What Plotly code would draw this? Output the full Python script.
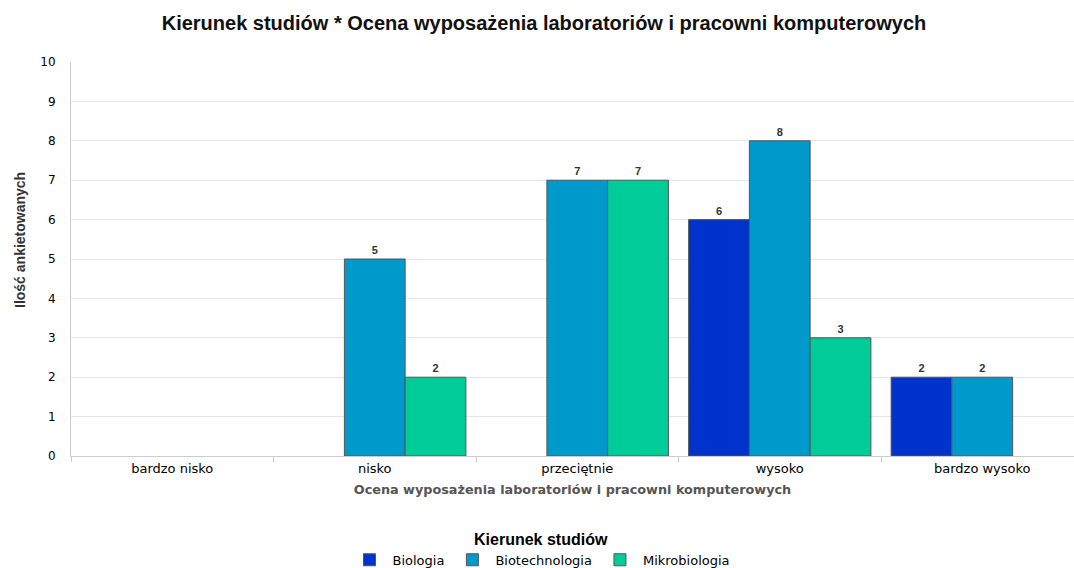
import plotly.graph_objects as go

categories = ["bardzo nisko", "nisko", "przeciętnie", "wysoko", "bardzo wysoko"]
series_names = ["Biologia", "Biotechnologia", "Mikrobiologia"]
biologia = [0, 0, 0, 6, 2]
biotechnologia = [0, 5, 7, 8, 2]
mikrobiologia = [0, 2, 7, 3, 0]
y_ticks = list(range(0, 11))

colors = ["#0033CC", "#0099CC", "#00CC99"]
series = [biologia, biotechnologia, mikrobiologia]

W, H = 1074, 568
ML, MR, MT, MB = 71, 0, 62, 112
PW, PH = W - ML - MR, H - MT - MB

fig = go.Figure()
for name, vals, col in zip(series_names, series, colors):
    fig.add_trace(go.Bar(
        name=name,
        x=categories,
        y=[v if v else None for v in vals],
        text=[str(v) if v else "" for v in vals],
        textposition="outside",
        textfont=dict(family="Liberation Sans", size=11, color="#333333", weight="bold"),
        marker=dict(color=col, line=dict(color="#555555", width=1)),
        cliponaxis=False,
    ))

fig.add_annotation(
    text="<b>Ilość ankietowanych</b>",
    xref="paper", yref="paper",
    x=(20 - ML) / PW, y=(H - MB - 240) / PH,
    xanchor="center", yanchor="middle",
    textangle=-90, showarrow=False,
    font=dict(family="Liberation Sans", size=14, color="#333333"),
)

fig.update_layout(
    width=W, height=H,
    margin=dict(l=ML, r=MR, t=MT, b=MB),
    paper_bgcolor="white", plot_bgcolor="white",
    barmode="group", bargap=0.1, bargroupgap=0,
    title=dict(
        text="<b>Kierunek studiów * Ocena wyposażenia laboratoriów i pracowni komputerowych</b>",
        x=544 / W, xref="container", xanchor="center",
        y=1 - 23 / H, yref="container", yanchor="middle",
        font=dict(family="Liberation Sans", size=20, color="#111111"),
    ),
    xaxis=dict(
        type="category",
        range=[-0.5, 4.453],
        tickson="boundaries",
        ticks="outside", ticklen=5, tickcolor="#cccccc",
        showline=True, linecolor="#cccccc", linewidth=1,
        showgrid=False,
        tickfont=dict(family="DejaVu Sans", size=13, color="#000000"),
        title=dict(
            text="<b>Ocena wyposażenia laboratoriów i pracowni komputerowych</b>",
            font=dict(family="DejaVu Sans", size=12.8, color="#555555"),
            standoff=10,
        ),
    ),
    yaxis=dict(
        range=[0, 10],
        tickvals=y_ticks,
        showgrid=True, gridcolor="#e6e6e6", gridwidth=1,
        showline=True, linecolor="#cccccc", linewidth=1,
        zeroline=False,
        ticks="", ticklabelstandoff=12,
        tickfont=dict(family="DejaVu Sans", size=12, color="#000000"),
    ),
    legend=dict(
        orientation="h",
        x=541 / W, xref="container", xanchor="center",
        y=1 - 524 / H, yref="container", yanchor="top",
        title=dict(text="<b>Kierunek studiów</b>", side="top center",
                   font=dict(family="Liberation Sans", size=16, color="#000000")),
        font=dict(family="DejaVu Sans", size=13, color="#000000"),
        itemwidth=36,
        traceorder="normal",
    ),
)

fig.write_html(
    "out.html",
    config={"displayModeBar": False},
    post_script="document.body.style.margin='0';document.body.style.padding='0';",
)
